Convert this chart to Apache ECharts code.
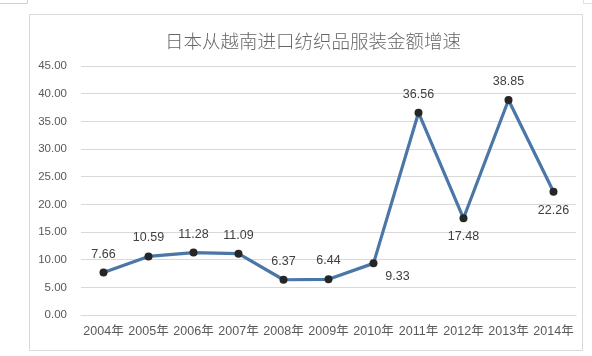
<!DOCTYPE html>
<html>
<head>
<meta charset="utf-8">
<script src="https://cdn.jsdelivr.net/npm/echarts@6/dist/echarts.min.js"></script>
<style>html,body{margin:0;padding:0;background:#fff;}#c{width:592px;height:356px;}</style>
</head>
<body>
<div id="c"></div>
<script>
var titleText = '日本从越南进口纺织品服装金额增速';
var categories = ['2004年','2005年','2006年','2007年','2008年','2009年','2010年','2011年','2012年','2013年','2014年'];
var values = [7.66, 10.59, 11.28, 11.09, 6.37, 6.44, 9.33, 36.56, 17.48, 38.85, 22.26];
var labelBelow = [false, false, false, false, false, false, true, false, true, false, true];

var chart = echarts.init(document.getElementById('c'));
var data = values.map(function (v, i) {
  var d = { value: v };
  if (labelBelow[i]) {
    d.label = { position: 'bottom', distance: 8 };
    if (i === 6) { d.label.offset = [24, -5]; }
  }
  return d;
});
chart.setOption({
  animation: false,
  title: {
    text: titleText, left: 160, top: 27,
    textStyle: { fontFamily: 'Noto Sans CJK SC', fontWeight: 300, fontSize: 18.5, color: '#666666' }
  },
  graphic: [
    { type: 'rect', shape: { x: 29.5, y: 14.5, width: 553, height: 336 }, style: { fill: 'none', stroke: '#d9d9d9', lineWidth: 1 }, silent: true },
    { type: 'polyline', shape: { points: [[0, 3.5], [27.5, 3.5], [27.5, 0]] }, style: { fill: 'none', stroke: '#d0d0d0', lineWidth: 1 }, silent: true },
    { type: 'polyline', shape: { points: [[583.5, 0], [583.5, 3.5], [592, 3.5]] }, style: { fill: 'none', stroke: '#e0e0e0', lineWidth: 1 }, silent: true }
  ],
  grid: { left: 81, right: 16, top: 66, bottom: 41 },
  xAxis: {
    type: 'category', data: categories, boundaryGap: true,
    axisLine: { show: true, lineStyle: { color: '#d9d9d9' } },
    axisTick: { show: false },
    axisLabel: { color: '#595959', fontSize: 12.5, fontFamily: 'Liberation Sans, Noto Sans CJK SC', margin: 10, interval: 0 }
  },
  yAxis: {
    type: 'value', min: 0, max: 45, interval: 5,
    axisLine: { show: false }, axisTick: { show: false },
    axisLabel: { color: '#595959', fontSize: 11.5, fontFamily: 'Liberation Sans', margin: 14, formatter: function (v) { return v.toFixed(2); } },
    splitLine: { lineStyle: { color: '#d9d9d9' } }
  },
  series: [{
    type: 'line', data: data,
    lineStyle: { color: '#4a76a8', width: 3.2 },
    itemStyle: { color: '#262626' },
    symbol: 'circle', symbolSize: 8,
    label: { show: true, position: 'top', distance: 8, color: '#404040', fontSize: 12.5, fontFamily: 'Liberation Sans', formatter: function (p) { return p.value.toFixed(2); } }
  }]
});
</script>
</body>
</html>
